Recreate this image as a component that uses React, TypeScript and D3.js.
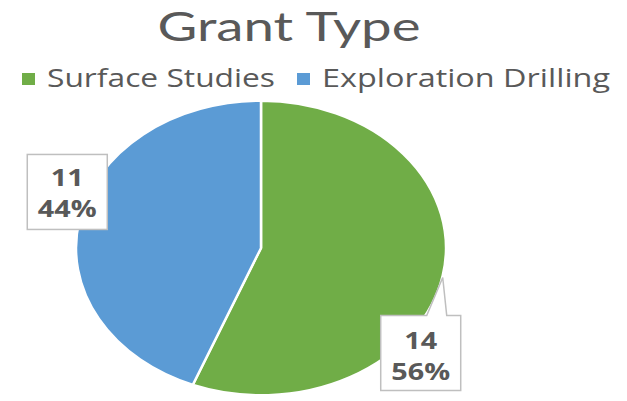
import React from "react";
import * as d3 from "d3";

const categories = ["Surface Studies", "Exploration Drilling"];
const values = [14, 11];
const colors = ["#70AD47", "#5B9BD5"];
const title = "Grant Type";

const W = 627, H = 401;
const cx = 261, cy = 248, ry = 147, rx = 185;

export default function App() {
  const total = d3.sum(values);
  const pie = d3.pie<number>().sort(null).startAngle(0).endAngle(2 * Math.PI);
  const arcs = pie(values);
  const arcGen = d3.arc<d3.PieArcDatum<number>>().innerRadius(0).outerRadius(ry);
  const sx = rx / ry;
  const fmt = d3.format(".0%");
  const outer = (a: d3.PieArcDatum<number>) => {
    const m = (a.startAngle + a.endAngle) / 2;
    return [cx + Math.sin(m) * rx, cy - Math.cos(m) * ry];
  };
  const textColor = "#595959";
  const font = "'Open Sans', 'Liberation Sans', sans-serif";

  const p0 = outer(arcs[0]);
  const p1 = outer(arcs[1]);
  const bw = 80, bh = 75;
  const box0 = { x: p0[0] - 62, y: p0[1] + 40 };
  const box1 = { x: p1[0] - 52, y: p1[1] - 66 };

  const legendItems = [
    { sq: 22, tx: 47, tw: 228 },
    { sq: 297, tx: 322, tw: 288 },
  ];

  const label = (x: number, y: number, s: string) => (
    <g transform={`translate(${x},${y}) scale(1.2,1)`}>
      <text x={0} y={0} textAnchor="middle" fill={textColor} fontFamily={font}
        fontWeight="bold" fontSize={24}>{s}</text>
    </g>
  );

  return (
    <svg width={W} height={H} style={{ position: "absolute", left: 0, top: 0, background: "#fff" }}>
      <text x={289} y={41} textAnchor="middle" fill={textColor} fontFamily="Lato, 'Open Sans', sans-serif" fontSize={41}
        textLength={263} lengthAdjust="spacingAndGlyphs">{title}</text>
      {categories.map((c, i) => (
        <g key={c}>
          <rect x={legendItems[i].sq} y={73} width={13} height={12} fill={colors[i]} />
          <text x={legendItems[i].tx} y={87} fill={textColor} fontFamily={font} fontSize={25}
            textLength={legendItems[i].tw} lengthAdjust="spacingAndGlyphs">{c}</text>
        </g>
      ))}
      <g transform={`translate(${cx},${cy}) scale(${sx},1)`}>
        {arcs.map((a, i) => (
          <path key={i} d={arcGen(a) || ""} fill={colors[i]} stroke="#fff" strokeWidth={2} />
        ))}
      </g>
      <path
        d={`M${box0.x},${box0.y} L${p0[0] - 16},${box0.y} L${p0[0]},${p0[1] + 2} L${p0[0] + 4},${box0.y} L${box0.x + bw},${box0.y} L${box0.x + bw},${box0.y + bh} L${box0.x},${box0.y + bh} Z`}
        fill="#fff" stroke="#BFBFBF" strokeWidth={1.5} />
      {label(box0.x + bw / 2, box0.y + 33, String(values[0]))}
      {label(box0.x + bw / 2, box0.y + 64, fmt(values[0] / total))}
      <rect x={box1.x} y={box1.y} width={bw} height={bh} fill="#fff" stroke="#BFBFBF" strokeWidth={1.5} />
      {label(box1.x + bw / 2, box1.y + 32, String(values[1]))}
      {label(box1.x + bw / 2, box1.y + 63, fmt(values[1] / total))}
    </svg>
  );
}
